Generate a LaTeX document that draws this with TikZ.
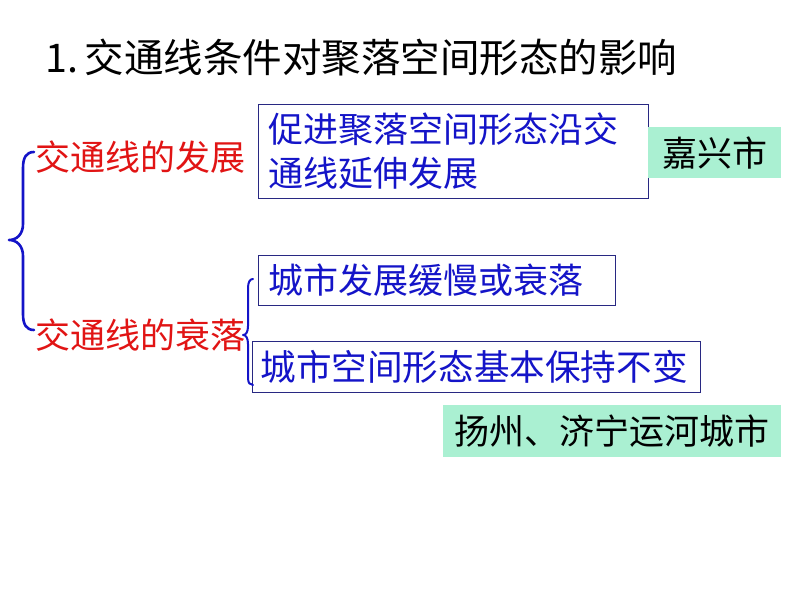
\documentclass[tikz,border=0pt]{standalone}
\usepackage{fontspec}
\setmainfont{Noto Sans CJK SC}
\definecolor{tred}{RGB}{225,20,20}
\definecolor{tblue}{RGB}{20,20,200}
\definecolor{bnavy}{RGB}{40,40,130}
\definecolor{tgreen}{RGB}{170,240,210}
\tikzset{
  bigtxt/.style={font=\fontsize{35}{44}\selectfont},
  redlbl/.style={bigtxt, text=tred, inner sep=0pt, anchor=west},
  bluebox/.style={bigtxt, text=tblue, draw=bnavy, line width=1pt, rectangle, align=left,
    inner xsep=10pt, inner ysep=0pt, anchor=north west},
  greenbox/.style={bigtxt, text=black, fill=tgreen, rectangle, inner sep=0pt, anchor=north west, align=center},
  bracepath/.style={draw=tblue, line width=2.6pt, line cap=round, line join=round},
}
\begin{document}
\begin{tikzpicture}[x=1pt,y=-1pt]
\useasboundingbox (0,0) rectangle (794,596);
\fill[white] (0,0) rectangle (794,596);

\node[anchor=west, inner sep=0pt, font=\fontsize{39.5}{44}\selectfont] (title) at (45,58) {1.\,交通线条件对聚落空间形态的影响};

\node[redlbl] (dev) at (35,157) {交通线的发展};
\node[redlbl] (dec) at (35,335) {交通线的衰落};

\node[bluebox, text width=370pt, minimum height=94pt] (b1) at (258,104) {促进聚落空间形态沿交\\通线延伸发展};
\node[greenbox, minimum width=133pt, minimum height=51pt] (g1) at (648,127) {嘉兴市};

\node[bluebox, text width=337pt, minimum height=50pt] (b2) at (258,255) {城市发展缓慢或衰落};
\node[bluebox, inner xsep=8pt, text width=432pt, minimum height=51pt, font=\fontsize{35.6}{44}\selectfont] (b3) at (252,341) {城市空间形态基本保持不变};
\node[greenbox, minimum width=338pt, minimum height=52pt] (g2) at (443,405) {扬州、济宁运河城市};

% big brace
\draw[bracepath] (34,152) .. controls (26,152) and (23,158) .. (23,168) -- (23,224)
  .. controls (23,234) and (17,240) .. (9,240)
  .. controls (17,240) and (23,246) .. (23,256) -- (23,314)
  .. controls (23,324) and (26,330) .. (34,330);
% small brace
\draw[bracepath, line width=2pt] (253,279) .. controls (250,279) and (248,282) .. (248,288) -- (248,326)
  .. controls (248,332) and (246,335) .. (243,335)
  .. controls (246,335) and (248,338) .. (248,344) -- (248,378)
  .. controls (248,383) and (250,385) .. (253,385);
\end{tikzpicture}
\end{document}
